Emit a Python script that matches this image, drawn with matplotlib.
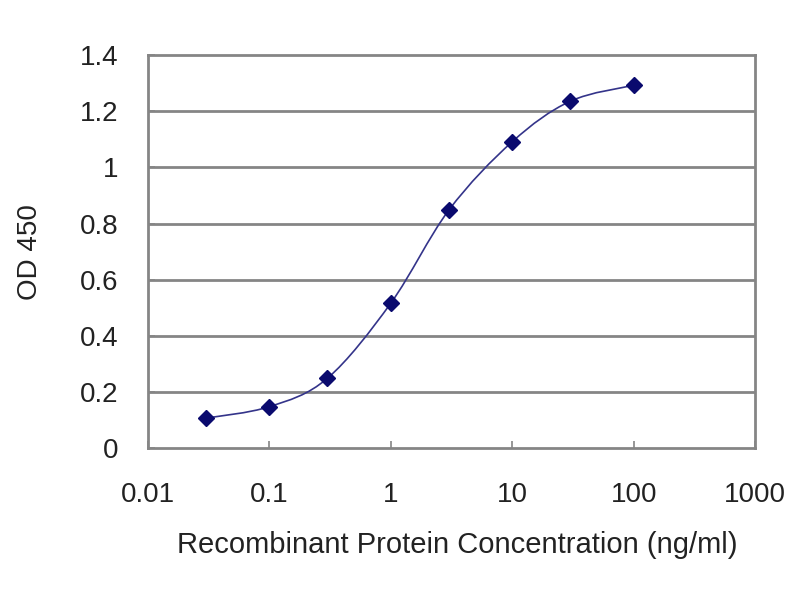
import numpy as np
import matplotlib
matplotlib.use('Agg')
import matplotlib.pyplot as plt
from matplotlib.path import Path
from matplotlib.patches import PathPatch

# values
conc = [0.03, 0.1, 0.3, 1, 3, 10, 30, 100]
od450 = [0.107, 0.148, 0.249, 0.517, 0.848, 1.092, 1.236, 1.293]
x_ticks = [0.01, 0.1, 1, 10, 100, 1000]
x_tick_labels = ['0.01', '0.1', '1', '10', '100', '1000']
y_ticks = [0, 0.2, 0.4, 0.6, 0.8, 1, 1.2, 1.4]
y_tick_labels = ['0', '0.2', '0.4', '0.6', '0.8', '1', '1.2', '1.4']

plt.rcParams['font.family'] = ['Liberation Sans', 'DejaVu Sans']


def smooth_path(xs, ys):
    # spreadsheet-style smoothed line: Catmull-Rom segments as cubic Beziers,
    # built in log-x space so the curve follows the log scale
    lx = np.log10(xs)
    y = np.asarray(ys, dtype=float)
    pts = np.column_stack([lx, y])
    n = len(pts)
    verts = [pts[0]]
    codes = [Path.MOVETO]
    for i in range(n - 1):
        p0 = pts[i - 1] if i > 0 else pts[i]
        p1 = pts[i]
        p2 = pts[i + 1]
        p3 = pts[i + 2] if i + 2 < n else pts[i + 1]
        c1 = p1 + (p2 - p0) / 6.0
        c2 = p2 - (p3 - p1) / 6.0
        verts += [c1, c2, p2]
        codes += [Path.CURVE4] * 3
    verts = np.array(verts)
    verts[:, 0] = 10 ** verts[:, 0]
    return Path(verts, codes)


fig = plt.figure(figsize=(8, 6), dpi=100)
ax = fig.add_axes([0.185, 0.253, 0.759, 0.655])

grid_color = '#858585'
text_color = '#222222'

ax.set_xscale('log')
ax.set_xlim(0.01, 1000)
ax.set_ylim(0, 1.4)

for yv in y_ticks[1:-1]:
    ax.axhline(yv, color=grid_color, linewidth=2.0, zorder=1)

ax.add_patch(PathPatch(smooth_path(conc, od450), facecolor='none',
                       edgecolor='#34348a', linewidth=1.2, zorder=2))
ax.plot(conc, od450, linestyle='none', marker='D', markersize=8,
        color='#0a0a6e', zorder=3)

ax.set_xticks(x_ticks)
ax.set_xticklabels(x_tick_labels)
ax.minorticks_off()
ax.set_yticks(y_ticks)
ax.set_yticklabels(y_tick_labels)

for side in ax.spines.values():
    side.set_color(grid_color)
    side.set_linewidth(2.0)

ax.tick_params(axis='both', direction='in', length=5, width=1.2,
               color=grid_color, labelsize=20, labelcolor=text_color)
ax.tick_params(axis='x', pad=24)
ax.tick_params(axis='y', pad=21)

ax.set_xlabel('Recombinant Protein Concentration (ng/ml)', fontsize=21,
              color=text_color, va='center')
ax.xaxis.set_label_coords(0.509, -0.247)
ax.set_ylabel('OD 450', fontsize=20, color=text_color, va='center')
ax.yaxis.set_label_coords(-0.194, 0.5)

fig.savefig('out.png', dpi=100, facecolor='white')
